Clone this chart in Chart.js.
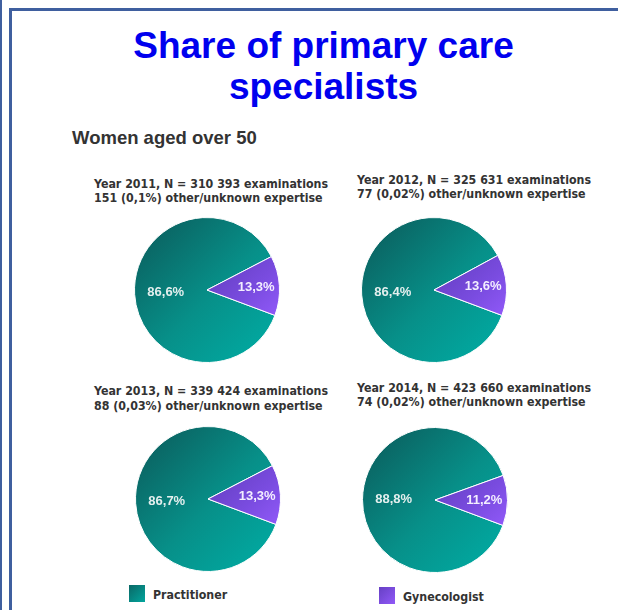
<!DOCTYPE html>
<html>
<head>
<meta charset="utf-8">
<script src="https://cdn.jsdelivr.net/npm/chart.js@4.4.1/dist/chart.umd.min.js"></script>
<style>
    body { margin: 0; background: #fff; }
    #page { position: relative; width: 618px; height: 610px; overflow: hidden; background: #fff; }
    .edge { position: absolute; background: #3f5f9f; }
    #title {
        position: absolute; left: 0; width: 647px; top: 25px;
        text-align: center; color: #0000ee;
        font: bold 37px/41px "Liberation Sans", Arial, sans-serif;
    }
    #subtitle {
        position: absolute; left: 72px; top: 128px; color: #333;
        font: bold 18.5px/20px "Liberation Sans", Arial, sans-serif;
    }
    .pie-title, .legend-item {
        position: absolute; color: #333; white-space: nowrap;
        font: bold 12.3px/14.5px "DejaVu Sans Condensed", "DejaVu Sans", sans-serif;
        font-stretch: condensed;
    }
    .pie { position: absolute; }
    .swatch { position: absolute; width: 16px; height: 17px; }
</style>
</head>
<body>
<div id="page">
    <div class="edge" style="left:0;top:0;width:2px;height:610px"></div>
    <div class="edge" style="left:9px;top:8px;width:3px;height:602px"></div>
    <div class="edge" style="left:9px;top:8px;width:609px;height:3px"></div>
    <div id="title">Share of primary care<br>specialists</div>
    <div id="subtitle">Women aged over 50</div>
</div>
<script>
// Données
const categories = ['Practitioner', 'Gynecologist'];
const years = ['2011', '2012', '2013', '2014'];
const examinations = ['310 393', '325 631', '339 424', '423 660'];
const otherUnknown = ['151 (0,1%)', '77 (0,02%)', '88 (0,03%)', '74 (0,02%)'];
const practitionerShare = [86.6, 86.4, 86.7, 88.8];
const gynecologistShare = [13.3, 13.6, 13.3, 11.2];

// Mise en page (centre des camemberts, position des titres)
const pieCenters = [[207, 290], [434, 290], [207.5, 499], [434.5, 499.5]];
const titleBoxes = [[94, 176.5], [357, 172.5], [94, 384], [357, 380.5]];
const RADIUS = 72.5;
const BOX = 170;

const fills = [
    { stops: ['#0a6866', '#079089', '#02a59d'], label: '#e4efee' },
    { stops: ['#6640c4', '#7a4ce0', '#9159f8'], label: '#f3eeff' }
];

function fmt(v) {
    return v.toFixed(1).replace('.', ',') + '%';
}

function sliceFill(ctx) {
    const chart = ctx.chart;
    const area = chart.chartArea;
    const f = fills[ctx.dataIndex];
    if (!area) return f.stops[1];
    const cx = (area.left + area.right) / 2;
    const cy = (area.top + area.bottom) / 2;
    const r = RADIUS;
    let g;
    if (ctx.dataIndex === 0) {
        g = chart.ctx.createLinearGradient(cx - r * 0.7, cy - r * 0.7, cx + r * 0.7, cy + r * 0.7);
    } else {
        g = chart.ctx.createLinearGradient(cx + r * 0.25, cy - r * 0.45, cx + r, cy + r * 0.35);
    }
    g.addColorStop(0, f.stops[0]);
    g.addColorStop(0.55, f.stops[1]);
    g.addColorStop(1, f.stops[2]);
    return g;
}

// Étiquettes dans les parts
const sliceLabels = {
    id: 'sliceLabels',
    afterDatasetsDraw(chart) {
        const meta = chart.getDatasetMeta(0);
        const data = chart.data.datasets[0].data;
        const c = chart.ctx;
        c.save();
        c.font = 'bold 13px "Liberation Sans", Arial, sans-serif';
        c.textAlign = 'center';
        c.textBaseline = 'middle';
        meta.data.forEach((arc, i) => {
            const p = arc.getProps(['x', 'y', 'startAngle', 'endAngle', 'outerRadius'], true);
            const mid = (p.startAngle + p.endAngle) / 2;
            const k = i === 0 ? 0.57 : 0.68;
            c.fillStyle = fills[i].label;
            c.fillText(fmt(data[i]), p.x + Math.cos(mid) * p.outerRadius * k, p.y + Math.sin(mid) * p.outerRadius * k);
        });
        c.restore();
    }
};

const page = document.getElementById('page');

years.forEach((year, i) => {
    // Titre du camembert
    const t = document.createElement('div');
    t.className = 'pie-title';
    t.style.left = titleBoxes[i][0] + 'px';
    t.style.top = titleBoxes[i][1] + 'px';
    t.innerHTML = `Year ${year}, N = ${examinations[i]} examinations<br>${otherUnknown[i]} other/unknown expertise`;
    page.appendChild(t);

    const canvas = document.createElement('canvas');
    canvas.className = 'pie';
    canvas.width = BOX;
    canvas.height = BOX;
    canvas.style.left = (pieCenters[i][0] - BOX / 2) + 'px';
    canvas.style.top = (pieCenters[i][1] - BOX / 2) + 'px';
    canvas.style.width = BOX + 'px';
    canvas.style.height = BOX + 'px';
    page.appendChild(canvas);

    new Chart(canvas.getContext('2d'), {
        type: 'pie',
        data: {
            labels: categories,
            datasets: [{
                data: [practitionerShare[i], gynecologistShare[i]],
                backgroundColor: sliceFill,
                borderColor: '#ffffff',
                borderWidth: 1
            }]
        },
        options: {
            responsive: false,
            animation: false,
            rotation: 110.5,
            radius: RADIUS,
            layout: { padding: 0 },
            plugins: { legend: { display: false }, tooltip: { enabled: false } }
        },
        plugins: [sliceLabels]
    });
});

// Légende
const legendPos = [[129, 585], [379, 587]];
categories.forEach((name, i) => {
    const sw = document.createElement('div');
    sw.className = 'swatch';
    sw.style.left = legendPos[i][0] + 'px';
    sw.style.top = legendPos[i][1] + 'px';
    sw.style.background = `linear-gradient(135deg, ${fills[i].stops[0]}, ${fills[i].stops[2]})`;
    page.appendChild(sw);

    const lab = document.createElement('div');
    lab.className = 'legend-item';
    lab.style.left = (legendPos[i][0] + 24) + 'px';
    lab.style.top = (legendPos[i][1] + 3) + 'px';
    lab.textContent = name;
    page.appendChild(lab);
});
</script>
</body>
</html>
